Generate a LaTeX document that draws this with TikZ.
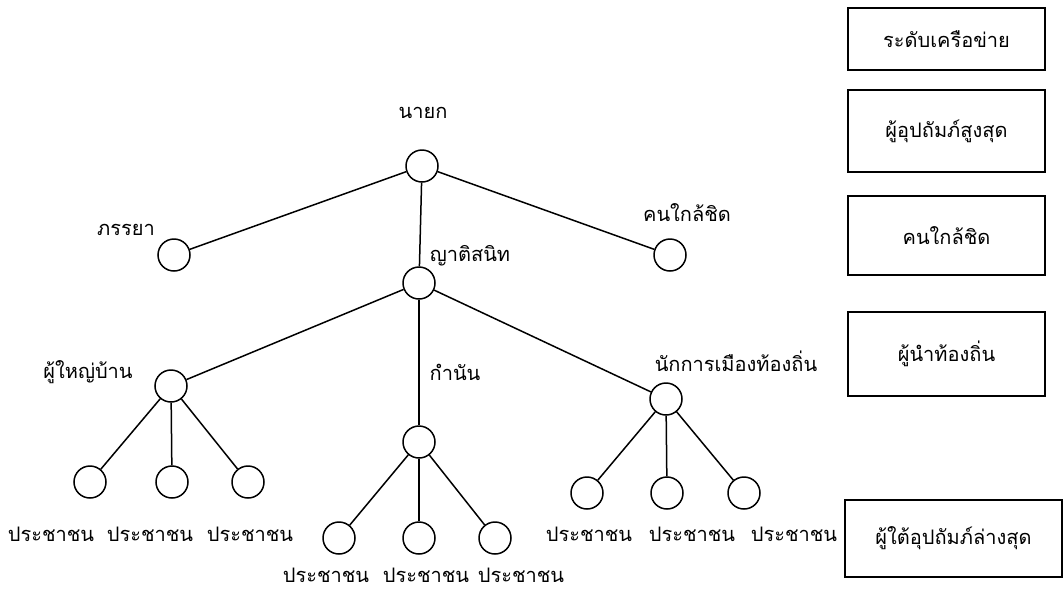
\documentclass[tikz,border=0pt]{standalone}
\usepackage{fontspec}
\setmainfont[Script=Thai]{Loma}
\usetikzlibrary{arrows,positioning}

\begin{document}
\begin{tikzpicture}[x=1pt,y=-1pt,line width=1.5pt,
  member/.style={circle,draw,minimum size=32pt,inner sep=0pt},
  level/.style={draw,minimum width=197pt,inner sep=0pt,font=\fontsize{20}{24}\selectfont},
  lbl/.style={inner sep=0pt,font=\fontsize{20}{24}\selectfont}]

\useasboundingbox (0,0) rectangle (1064,590);

\node[member]   (nayok)    at (422,166)   {};
\node[member]   (wife)     at (174,255)   {};
\node[member]   (close)    at (670,255)   {};
\node[member]   (kin)      at (419,283)   {};
\node[member]   (headman)  at (171,386)   {};
\node[member]   (kamnan)   at (419,442)   {};
\node[member]   (pol)      at (666,399)   {};
\node[member]   (p1)       at (90,482)    {};
\node[member]   (p2)       at (172,482)   {};
\node[member]   (p3)       at (248,482)   {};
\node[member]   (p4)       at (339,538)   {};
\node[member]   (p5)       at (419,538)   {};
\node[member]   (p6)       at (495,538)   {};
\node[member]   (p7)       at (587,493)   {};
\node[member]   (p8)       at (667,493)   {};
\node[member]   (p9)       at (744,493)   {};

\node[lbl]   (lnayok)    at (423,113)   {นายก};
\node[lbl]   (lwife)     at (126,230)   {ภรรยา};
\node[lbl]   (lclose)    at (687,213)   {คนใกล้ชิด};
\node[lbl]   (lkin)      at (470,256)   {ญาติสนิท};
\node[lbl]   (lheadman)  at (88,372)    {ผู้ใหญ่บ้าน};
\node[lbl]   (lkamnan)   at (455,372)   {กำนัน};
\node[lbl]   (lpol)      at (736,361)   {นักการเมืองท้องถิ่น};
\node[lbl]   (lp1)       at (51,534)    {ประชาชน};
\node[lbl]   (lp2)       at (150,534)   {ประชาชน};
\node[lbl]   (lp3)       at (250,534)   {ประชาชน};
\node[lbl]   (lp4)       at (326,575)   {ประชาชน};
\node[lbl]   (lp5)       at (426,575)   {ประชาชน};
\node[lbl]   (lp6)       at (521,575)   {ประชาชน};
\node[lbl]   (lp7)       at (589,534)   {ประชาชน};
\node[lbl]   (lp8)       at (692,534)   {ประชาชน};
\node[lbl]   (lp9)       at (794,534)   {ประชาชน};

\node[level,minimum height=62pt]   (net)     at (946.5,39)    {ระดับเครือข่าย};
\node[level,minimum height=82pt]   (top)     at (946.5,131)   {ผู้อุปถัมภ์สูงสุด};
\node[level,minimum height=79pt]   (near)    at (946.5,235.5) {คนใกล้ชิด};
\node[level,minimum height=84pt]   (local)   at (946.5,354)   {ผู้นำท้องถิ่น};
\node[level,minimum height=77pt,minimum width=217pt]   (bottom)  at (953.5,538.5) {ผู้ใต้อุปถัมภ์ล่างสุด};

\path[-] (nayok)   edge (wife)
                   edge (close)
                   edge (kin)
         (kin)     edge (headman)
                   edge (kamnan)
                   edge (pol)
         (headman) edge (p1)
                   edge (p2)
                   edge (p3)
         (kamnan)  edge (p4)
                   edge (p5)
                   edge (p6)
         (pol)     edge (p7)
                   edge (p8)
                   edge (p9);

\end{tikzpicture}
\end{document}
